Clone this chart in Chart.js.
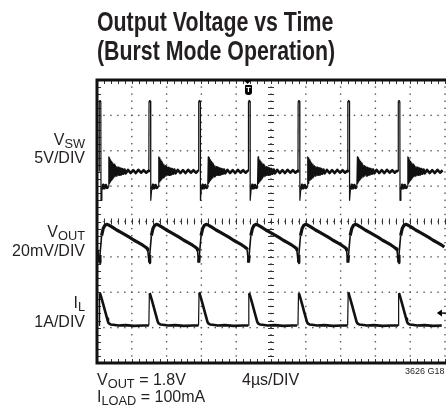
<!DOCTYPE html>
<html>
<head>
<meta charset="utf-8">
<script src="https://cdn.jsdelivr.net/npm/chart.js@4.4.1/dist/chart.umd.min.js"></script>
<style>
    html, body { margin: 0; padding: 0; background: #fff; width: 446px; height: 418px; overflow: hidden; }
    #wrap { position: relative; width: 446px; height: 418px; overflow: hidden; }
    #scope { position: absolute; left: 0; top: 0; }
    .txt { position: absolute; font-family: "Liberation Sans", Arial, sans-serif; color: #231f20; white-space: nowrap; line-height: 16px; font-size: 16px; }
    .txt sub { font-size: 0.8em; vertical-align: -0.22em; line-height: 0; }
    .title { font-weight: bold; font-size: 27px; line-height: 29px; left: 97px; top: 8px; transform: scaleX(0.79); transform-origin: left top; }
    .lab { right: 361px; text-align: right; }
    .trig { position: absolute; left: 245px; top: 85px; width: 7px; height: 10px; background: #000; border-radius: 1px 1px 3px 3px;
            color: #fff; font: bold 8px "Liberation Sans", sans-serif; line-height: 10px; text-align: center; }
</style>
</head>
<body>
<div id="wrap">
    <canvas id="scope" width="446" height="418"></canvas>

    <div class="txt title">Output Voltage vs Time<br>(Burst Mode Operation)</div>

    <div class="txt lab" style="top:132px">V<sub>SW</sub></div>
    <div class="txt lab" style="top:150px">5V/DIV</div>
    <div class="txt lab" style="top:224px">V<sub>OUT</sub></div>
    <div class="txt lab" style="top:243px">20mV/DIV</div>
    <div class="txt lab" style="top:295px">I<sub>L</sub></div>
    <div class="txt lab" style="top:314px">1A/DIV</div>

    <div class="txt" style="left:97px;top:372px">V<sub>OUT</sub> = 1.8V</div>
    <div class="txt" style="left:97px;top:389px">I<sub>LOAD</sub> = 100mA</div>
    <div class="txt" style="left:242px;top:372px">4µs/DIV</div>
    <div class="txt" style="left:405px;top:367px;font-size:9px;line-height:9px">3626 G18</div>

    <div class="trig">T</div>
</div>

<script>
// time axis: 10 div x 4µs, vertical: 8 div (values below are in divisions)
const timeTicks = [0, 4, 8, 12, 16, 20, 24, 28, 32, 36, 40];
const divTicks = [0, 1, 2, 3, 4, 5, 6, 7, 8];

// switching events (µs), read from the VSW spikes
const pulseTimes = [0.26, 5.98, 11.69, 17.41, 23.12, 28.83, 34.63];
const triggerTime = 17.3;

// one burst of each trace, [µs after pulse, div]
const vswShape = [
    [-0.02, 5.42], [0, 7.4], [0.18, 7.4], [0.2, 4.6], [0.3, 4.9], [0.45, 5.04], [0.6, 4.94], [0.75, 5.03],
    [0.9, 4.95], [1.04, 5.0], [1.1, 5.83], [1.14, 5.08], [1.19, 5.8], [1.24, 5.12], [1.3, 5.74], [1.36, 5.16],
    [1.42, 5.7], [1.48, 5.2], [1.55, 5.66], [1.62, 5.23], [1.7, 5.62], [1.78, 5.26], [1.86, 5.58], [1.94, 5.28],
    [2.02, 5.55], [2.1, 5.3], [2.2, 5.52], [2.3, 5.32], [2.4, 5.5], [2.5, 5.33], [2.62, 5.48], [2.75, 5.35],
    [2.9, 5.47], [3.05, 5.36], [3.3, 5.46], [3.6, 5.37], [3.9, 5.45], [4.2, 5.37], [4.5, 5.46], [4.8, 5.38],
    [5.1, 5.45], [5.4, 5.38], [5.62, 5.43]
];
const voutShape = [
    [-0.15, 3.2], [0, 2.84], [0.08, 3.05], [0.27, 3.6], [0.45, 3.8], [0.65, 3.89], [0.85, 3.92], [1.1, 3.9],
    [1.5, 3.84], [2.0, 3.76], [2.5, 3.69], [3.0, 3.62], [3.5, 3.55], [4.0, 3.47], [4.5, 3.4], [5.0, 3.33],
    [5.3, 3.28], [5.55, 3.23]
];
const ilShape = [
    [-0.02, 1.06], [0.04, 1.97], [0.12, 1.95], [0.3, 1.8], [0.5, 1.62], [0.7, 1.44], [0.9, 1.26], [1.0, 1.17],
    [1.1, 1.12], [1.3, 1.09], [1.6, 1.08], [2.2, 1.06], [3.0, 1.07], [4.0, 1.05], [5.0, 1.06], [5.6, 1.06]
];

const groundMark = { x: 39.3, y: 1.41 };

const buildTrace = (shape) => {
    let points = [];
    pulseTimes.forEach((tp, i) => {
        let next = (pulseTimes[i + 1] ?? 99) + shape[0][0];
        shape.forEach(([dt, v]) => {
            let t = tp + dt;
            if (t >= 0 && t < next && t <= 40) points.push({ x: t, y: v });
        });
    });
    return points;
};

// steep edges are drawn thin, the noisy flat parts thick
const edgeWidth = (thick, thin) => (ctx) => {
    const dx = Math.abs(ctx.p1.x - ctx.p0.x);
    const dy = Math.abs(ctx.p1.y - ctx.p0.y);
    return dy > 4 * dx + 5 ? thin : thick;
};

const scopeGrid = {
    id: 'scopeGrid',
    beforeDatasetsDraw(chart) {
        const { ctx, chartArea: a, scales: { x, y } } = chart;
        ctx.save();
        ctx.fillStyle = '#555';
        // dotted graticule
        timeTicks.slice(1).forEach(t => {
            const px = x.getPixelForValue(t);
            for (let j = 1; j < 40; j++) {
                const py = y.getPixelForValue(j * 0.2);
                ctx.fillRect(px - 0.7, py - 0.7, 1.4, 1.4);
            }
        });
        divTicks.slice(1, -1).forEach(d => {
            const py = y.getPixelForValue(d);
            for (let j = 1; j < 50; j++) {
                const px = x.getPixelForValue(j * 0.8);
                ctx.fillRect(px - 0.7, py - 0.7, 1.4, 1.4);
            }
        });
        // minor ticks on center lines and frame edges
        ctx.strokeStyle = '#333';
        ctx.lineWidth = 1;
        ctx.beginPath();
        const cx = x.getPixelForValue(20), cy = y.getPixelForValue(4);
        for (let j = 1; j < 40; j++) {
            const py = Math.round(y.getPixelForValue(j * 0.2)) + 0.5;
            ctx.moveTo(cx - 3, py); ctx.lineTo(cx + 3, py);
            ctx.moveTo(a.left, py); ctx.lineTo(a.left + 4, py);
        }
        for (let j = 1; j < 51; j++) {
            const px = Math.round(x.getPixelForValue(j * 0.8)) + 0.5;
            ctx.moveTo(px, cy - 3); ctx.lineTo(px, cy + 3);
            ctx.moveTo(px, a.top); ctx.lineTo(px, a.top + 4);
            ctx.moveTo(px, a.bottom); ctx.lineTo(px, a.bottom - 4);
        }
        ctx.stroke();
        ctx.restore();
    },
    afterDatasetsDraw(chart) {
        const { ctx, chartArea: a, scales: { x, y } } = chart;
        ctx.save();
        // frame: right side is cut off by the picture edge
        ctx.strokeStyle = '#111';
        ctx.lineWidth = 3;
        ctx.beginPath();
        ctx.moveTo(a.right + 2, a.top); ctx.lineTo(a.left, a.top);
        ctx.lineTo(a.left, a.bottom); ctx.lineTo(a.right + 2, a.bottom);
        ctx.stroke();

        // trigger position marker
        const tx = x.getPixelForValue(triggerTime);
        ctx.fillStyle = '#000';
        ctx.beginPath();
        ctx.moveTo(tx - 4, a.top); ctx.lineTo(tx + 4, a.top); ctx.lineTo(tx, a.top + 4);
        ctx.closePath();
        ctx.fill();

        // ground reference arrow
        const gx = x.getPixelForValue(groundMark.x), gy = y.getPixelForValue(groundMark.y);
        ctx.beginPath();
        ctx.moveTo(gx - 2, gy); ctx.lineTo(gx + 3, gy - 3.5); ctx.lineTo(gx + 3, gy + 3.5);
        ctx.closePath();
        ctx.fill();
        ctx.lineWidth = 1.5;
        ctx.beginPath();
        ctx.moveTo(gx + 2, gy); ctx.lineTo(gx + 7, gy);
        ctx.stroke();
        ctx.restore();
    }
};

const traceStyle = (thick, thin) => ({
    borderColor: '#111',
    borderWidth: thick,
    pointRadius: 0,
    tension: 0,
    fill: false,
    borderJoinStyle: 'round',
    segment: { borderWidth: edgeWidth(thick, thin) }
});

new Chart(document.getElementById('scope'), {
    type: 'line',
    data: {
        datasets: [
            { label: 'VSW', data: buildTrace(vswShape), ...traceStyle(2.6, 1.2) },
            { label: 'VOUT', data: buildTrace(voutShape), ...traceStyle(3.2, 1.6) },
            { label: 'IL', data: buildTrace(ilShape), ...traceStyle(2.6, 1.2) }
        ]
    },
    options: {
        responsive: false,
        animation: false,
        parsing: false,
        layout: { padding: { left: 97, top: 80, right: 1, bottom: 55 } },
        plugins: { legend: { display: false }, tooltip: { enabled: false }, title: { display: false } },
        scales: {
            x: { type: 'linear', min: 0, max: 40, display: false },
            y: { type: 'linear', min: 0, max: 8, display: false }
        }
    },
    plugins: [scopeGrid]
});
</script>
</body>
</html>
